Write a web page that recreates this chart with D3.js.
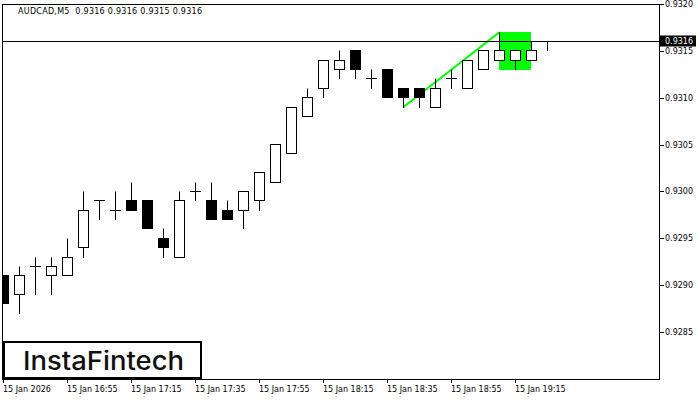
<!DOCTYPE html>
<html><head><meta charset="utf-8">
<script src="https://cdn.jsdelivr.net/npm/d3@7"></script>
<style>html,body{margin:0;padding:0;background:#fff}svg{display:block}</style>
</head><body>
<script>
// ---- data ----
const times = ["16:35","16:40","16:45","16:50","16:55","17:00","17:05","17:10","17:15","17:20",
  "17:25","17:30","17:35","17:40","17:45","17:50","17:55","18:00","18:05","18:10",
  "18:15","18:20","18:25","18:30","18:35","18:40","18:45","18:50","18:55","19:00",
  "19:05","19:10","19:15","19:20","19:25"];
const open  = [0.9291,0.9289,0.9292,0.9291,0.9291,0.9294,0.9299,0.9298,0.9299,0.9299,
  0.9295,0.9293,0.9300,0.9299,0.9298,0.9298,0.9299,0.9301,0.9304,0.9308,
  0.9311,0.9313,0.9315,0.9312,0.9313,0.9311,0.9311,0.9309,0.9312,0.9311,
  0.9313,0.9314,0.9314,0.9314,0.9316];
const high  = [0.9291,0.9292,0.9293,0.9293,0.9295,0.9300,0.9299,0.9300,0.9301,0.9299,
  0.9296,0.9300,0.9301,0.9301,0.9299,0.9300,0.9302,0.9305,0.9309,0.9311,
  0.9314,0.9315,0.9315,0.9313,0.9313,0.9311,0.9311,0.9312,0.9313,0.9314,
  0.9315,0.9317,0.9315,0.9316,0.9316];
const low   = [0.9288,0.9287,0.9289,0.9289,0.9291,0.9293,0.9297,0.9297,0.9298,0.9296,
  0.9293,0.9293,0.9299,0.9297,0.9297,0.9296,0.9298,0.9301,0.9304,0.9308,
  0.9310,0.9312,0.9312,0.9311,0.9310,0.9309,0.9309,0.9309,0.9311,0.9311,
  0.9313,0.9314,0.9313,0.9314,0.9315];
const close = [0.9288,0.9291,0.9292,0.9292,0.9293,0.9298,0.9299,0.9298,0.9298,0.9296,
  0.9294,0.9299,0.9300,0.9297,0.9297,0.9300,0.9302,0.9305,0.9309,0.9310,
  0.9314,0.9314,0.9313,0.9312,0.9310,0.9310,0.9310,0.9311,0.9312,0.9314,
  0.9315,0.9315,0.9315,0.9315,0.9316];
const xTickIndex  = [0,4,8,12,16,20,24,28,32];
const xTickLabels = ["15 Jan 2026","15 Jan 16:55","15 Jan 17:15","15 Jan 17:35","15 Jan 17:55",
  "15 Jan 18:15","15 Jan 18:35","15 Jan 18:55","15 Jan 19:15"];
const yTicks = [0.9285,0.9290,0.9295,0.9300,0.9305,0.9310,0.9315,0.9320];
const titleText = "AUDCAD,M5  0.9316 0.9316 0.9315 0.9316";
const currentPrice = 0.9316;
const trendFrom = [25, 0.9309];
const trendTo   = [31, 0.9317];
const flagIndex = [31, 33];
const flagPrice = [0.9317, 0.9313];
const logoText = "InstaFintech";

// ---- layout ----
const W = 700, H = 400;
const L = 2, R = 659, T = 4, B = 379;
const svg = d3.select("body").append("svg").attr("width", W).attr("height", H);

const x = d3.scaleLinear().domain([0, times.length - 1]).range([3, 547]);
const y = d3.scaleLinear().domain([0.9285, 0.9320]).range([332, 4]);
const yr = y.copy().interpolate(d3.interpolateRound);
const sy = v => Math.floor(y(v)) + 0.5;

svg.append("defs").append("clipPath").attr("id", "plot")
  .append("rect").attr("x", L + 0.5).attr("y", T + 0.5).attr("width", R - L).attr("height", B - T);

const g = svg.append("g").attr("clip-path", "url(#plot)");

// flag rectangle
g.append("rect")
  .attr("x", x(flagIndex[0])).attr("y", Math.floor(y(flagPrice[0])))
  .attr("width", x(flagIndex[1]) - x(flagIndex[0]))
  .attr("height", Math.floor(y(flagPrice[1])) - Math.floor(y(flagPrice[0])) + 1)
  .attr("fill", "#00ff00");

// trend line
g.append("line")
  .attr("x1", x(trendFrom[0]) + 0.5).attr("y1", y(trendFrom[1]))
  .attr("x2", x(trendTo[0]) + 0.5).attr("y2", y(trendTo[1]))
  .attr("stroke", "#00ff00").attr("stroke-width", 2);

// current price line
g.append("line")
  .attr("x1", L).attr("x2", R + 1)
  .attr("y1", sy(currentPrice)).attr("y2", sy(currentPrice))
  .attr("stroke", "#000").attr("stroke-width", 1);

// candles
const idx = d3.range(times.length);
const c = g.selectAll("g.candle").data(idx).join("g").attr("class", "candle");
c.append("line")
  .attr("x1", i => x(i) + 0.5).attr("x2", i => x(i) + 0.5)
  .attr("y1", i => sy(high[i])).attr("y2", i => sy(low[i]) + 0.5)
  .attr("stroke", "#000").attr("stroke-width", 1);
c.filter(i => sy(open[i]) === sy(close[i])).append("line")
  .attr("x1", i => x(i) - 5).attr("x2", i => x(i) + 6)
  .attr("y1", i => sy(open[i])).attr("y2", i => sy(open[i]))
  .attr("stroke", "#000").attr("stroke-width", 1);
c.filter(i => sy(open[i]) !== sy(close[i])).append("rect")
  .attr("x", i => x(i) - 4.5)
  .attr("y", i => Math.min(sy(open[i]), sy(close[i])))
  .attr("width", 10)
  .attr("height", i => Math.abs(sy(open[i]) - sy(close[i])))
  .attr("fill", i => close[i] > open[i] ? "#fff" : "#000")
  .attr("stroke", "#000").attr("stroke-width", 1);

// frame
svg.append("rect").attr("x", L + 0.5).attr("y", T + 0.5).attr("width", R - L).attr("height", B - T)
  .attr("fill", "none").attr("stroke", "#000").attr("stroke-width", 1);

// y axis
const yAxis = svg.append("g").attr("transform", `translate(${R + 1},0)`)
  .call(d3.axisRight(yr).tickValues(yTicks).tickSize(4).tickPadding(1).tickFormat(d3.format(".4f")));
yAxis.select(".domain").remove();
yAxis.selectAll("text").attr("font-family", "DejaVu Sans").attr("font-size", 8).attr("fill", "#000");
yAxis.selectAll("line").attr("stroke", "#000");

// current price label
svg.append("rect").attr("x", R + 1).attr("y", sy(currentPrice) - 6).attr("width", 36).attr("height", 11).attr("fill", "#000");
svg.append("text").attr("x", R + 6).attr("y", sy(currentPrice)).attr("dy", "0.35em")
  .attr("font-family", "DejaVu Sans").attr("font-size", 8).attr("fill", "#fff")
  .text(d3.format(".4f")(currentPrice));

// x axis
const xAxis = svg.append("g").attr("transform", `translate(0,${B})`)
  .call(d3.axisBottom(x).tickValues(xTickIndex).tickSize(4).tickPadding(3)
    .tickFormat((d, k) => xTickLabels[k]));
xAxis.select(".domain").remove();
xAxis.selectAll("text").attr("text-anchor", "start").attr("x", -0.5)
  .attr("font-family", "DejaVu Sans").attr("font-size", 8).attr("fill", "#000");
xAxis.selectAll("line").attr("stroke", "#000");

// title
svg.append("text").attr("x", 18).attr("y", 13.5).style("white-space", "pre")
  .attr("font-family", "DejaVu Sans").attr("font-size", 8).attr("fill", "#000")
  .attr("textLength", 184).attr("lengthAdjust", "spacing")
  .text(titleText);

// logo
svg.append("rect").attr("x", 4).attr("y", 342).attr("width", 197).attr("height", 36)
  .attr("fill", "#fff").attr("stroke", "#000").attr("stroke-width", 2);
svg.append("text").attr("x", 23).attr("y", 369.5)
  .attr("font-family", "Inter").attr("font-weight", 500).attr("font-size", 26)
  .attr("textLength", 161).attr("lengthAdjust", "spacingAndGlyphs")
  .attr("fill", "#111").text(logoText);
</script>
</body></html>
